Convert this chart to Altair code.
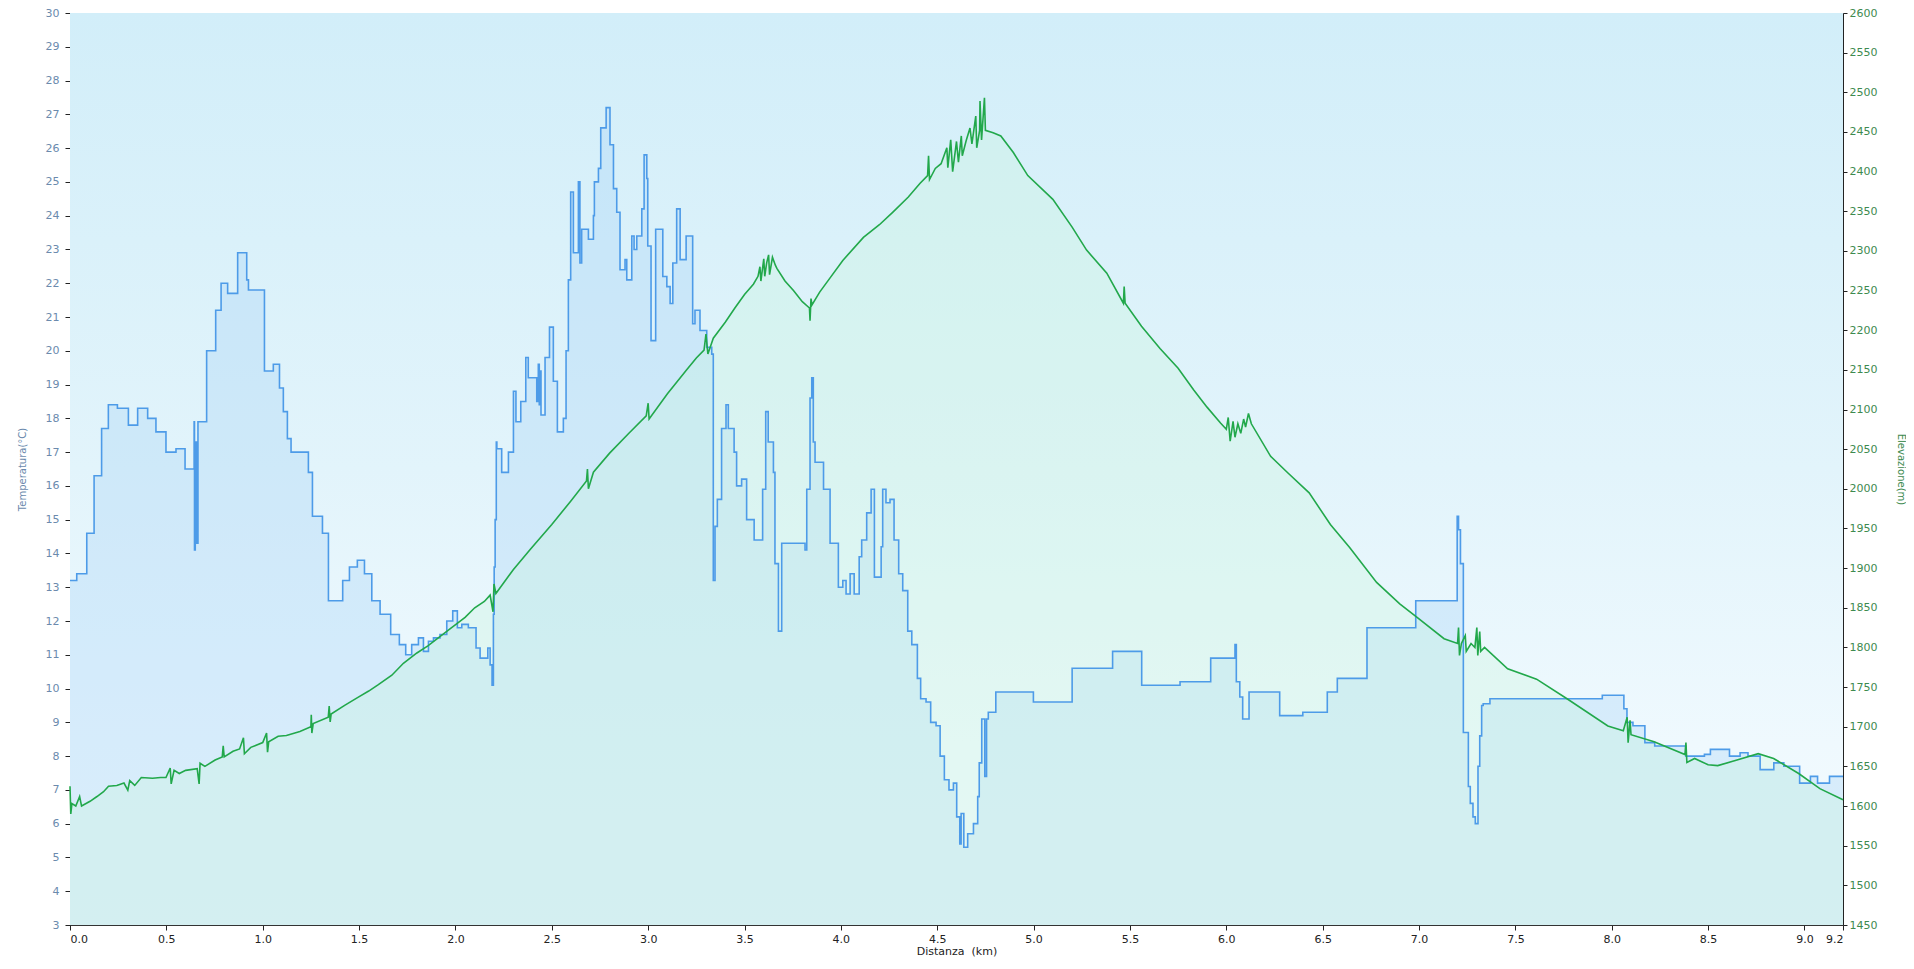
import altair as alt
import pandas as pd

# ---------------- data ----------------
temp_km = [0.000, 0.035, 0.087, 0.125, 0.164, 0.199, 0.246, 0.303, 0.351, 0.403,
           0.446, 0.498, 0.550, 0.597, 0.644, 0.646, 0.650, 0.658, 0.664, 0.709,
           0.756, 0.784, 0.818, 0.870, 0.917, 0.926, 1.009, 1.055, 1.087, 1.107,
           1.128, 1.147, 1.237, 1.258, 1.310, 1.341, 1.415, 1.450, 1.491, 1.528,
           1.566, 1.609, 1.664, 1.709, 1.742, 1.773, 1.808, 1.834, 1.860, 1.886,
           1.920, 1.955, 1.986, 2.010, 2.033, 2.067, 2.107, 2.128, 2.168, 2.180,
           2.190, 2.197, 2.201, 2.206, 2.212, 2.215, 2.240, 2.275, 2.301, 2.314,
           2.339, 2.365, 2.378, 2.422, 2.430, 2.435, 2.439, 2.444, 2.465, 2.488,
           2.508, 2.529, 2.560, 2.574, 2.586, 2.598, 2.612, 2.638, 2.646, 2.655,
           2.690, 2.704, 2.716, 2.721, 2.742, 2.754, 2.782, 2.802, 2.820, 2.837,
           2.854, 2.880, 2.889, 2.915, 2.927, 2.941, 2.967, 2.979, 2.993, 2.998,
           3.015, 3.039, 3.076, 3.097, 3.114, 3.128, 3.148, 3.166, 3.197, 3.231,
           3.243, 3.269, 3.304, 3.330, 3.338, 3.347, 3.359, 3.381, 3.404, 3.416,
           3.446, 3.459, 3.485, 3.511, 3.550, 3.594, 3.610, 3.623, 3.650, 3.658,
           3.676, 3.693, 3.814, 3.823, 3.840, 3.849, 3.857, 3.866, 3.910, 3.944,
           3.987, 4.010, 4.027, 4.048, 4.069, 4.095, 4.108, 4.134, 4.157, 4.174,
           4.209, 4.217, 4.234, 4.255, 4.276, 4.300, 4.321, 4.347, 4.368, 4.397,
           4.414, 4.442, 4.466, 4.494, 4.515, 4.537, 4.561, 4.584, 4.601, 4.617,
           4.624, 4.638, 4.658, 4.688, 4.710, 4.718, 4.731, 4.747, 4.756, 4.765,
           4.804, 4.999, 5.200, 5.410, 5.561, 5.760, 5.919, 6.045, 6.052, 6.070,
           6.085, 6.118, 6.277, 6.397, 6.524, 6.576, 6.730, 6.983, 7.198, 7.205,
           7.215, 7.230, 7.256, 7.266, 7.280, 7.292, 7.306, 7.315, 7.325, 7.333,
           7.368, 7.951, 8.063, 8.079, 8.110, 8.172, 8.223, 8.384, 8.481, 8.512,
           8.611, 8.666, 8.707, 8.770, 8.841, 8.893, 8.975, 9.031, 9.068, 9.130,
           9.200]
temp_val = [13.2, 13.4, 14.6, 16.3, 17.7, 18.4, 18.3, 17.8, 18.3, 18.0,
            17.6, 17.0, 17.1, 16.5, 17.9, 14.1, 17.3, 14.3, 17.9, 20.0,
            21.2, 22.0, 21.7, 22.9, 22.1, 21.8, 19.4, 19.6, 18.9, 18.2,
            17.4, 17.0, 16.4, 15.1, 14.6, 12.6, 13.2, 13.6, 13.8, 13.4,
            12.6, 12.2, 11.6, 11.3, 11.0, 11.3, 11.5, 11.1, 11.4, 11.5,
            11.6, 12.0, 12.3, 11.8, 11.9, 11.8, 11.2, 10.9, 11.2, 10.7,
            10.1, 12.2, 13.6, 15.0, 17.3, 17.1, 16.4, 17.0, 18.8, 17.9,
            18.5, 19.8, 19.2, 18.5, 19.6, 18.4, 19.4, 18.1, 19.8, 20.7,
            19.1, 17.6, 18.0, 20.0, 22.1, 24.7, 22.9, 25.0, 22.6, 23.6,
            23.3, 23.3, 24.0, 25.0, 25.4, 26.6, 27.2, 26.1, 24.8, 24.1,
            22.4, 22.7, 22.1, 23.4, 23.0, 23.4, 24.2, 25.8, 25.1, 23.1,
            20.3, 23.6, 22.2, 21.9, 21.4, 22.6, 24.2, 22.7, 23.4, 20.8,
            21.2, 20.6, 20.1, 19.9, 13.2, 14.8, 15.6, 17.7, 18.4, 17.7,
            17.0, 16.0, 16.2, 15.0, 14.4, 15.9, 18.2, 17.3, 16.4, 13.7,
            11.7, 14.3, 14.1, 15.9, 18.6, 19.2, 17.3, 16.7, 15.9, 14.3,
            13.0, 13.2, 12.8, 13.4, 12.8, 13.9, 14.4, 15.2, 15.9, 13.3,
            14.2, 15.9, 15.5, 15.6, 14.4, 13.4, 12.9, 11.7, 11.3, 10.3,
            9.7, 9.6, 9.0, 8.9, 8.0, 7.3, 7.0, 7.2, 6.2, 5.4,
            6.3, 5.3, 5.7, 6.0, 6.8, 7.8, 9.1, 7.4, 9.1, 9.3,
            9.9, 9.6, 10.6, 11.1, 10.1, 10.2, 10.9, 11.3, 10.2, 9.75,
            9.1, 9.9, 9.2, 9.3, 9.9, 10.3, 11.8, 12.6, 15.1, 14.7,
            13.7, 8.7, 7.1, 6.6, 6.2, 6.0, 7.7, 8.6, 9.5, 9.55,
            9.7, 9.8, 9.4, 9.0, 8.9, 8.4, 8.3, 8.0, 8.05, 8.2,
            8.0, 8.1, 8.0, 7.6, 7.8, 7.7, 7.2, 7.4, 7.2, 7.4,
            7.4]

elev_km = [0.000, 0.004, 0.010, 0.030, 0.050, 0.060, 0.104, 0.140, 0.174, 0.200,
           0.243, 0.280, 0.300, 0.310, 0.336, 0.370, 0.428, 0.470, 0.498, 0.520,
           0.525, 0.540, 0.567, 0.600, 0.660, 0.670, 0.675, 0.700, 0.753, 0.790,
           0.795, 0.800, 0.846, 0.880, 0.900, 0.905, 0.938, 1.000, 1.020, 1.025,
           1.031, 1.080, 1.123, 1.193, 1.250, 1.252, 1.255, 1.262, 1.340, 1.345,
           1.350, 1.355, 1.425, 1.494, 1.550, 1.600, 1.670, 1.730, 1.800, 1.857,
           1.970, 2.050, 2.100, 2.150, 2.180, 2.195, 2.200, 2.210, 2.300, 2.390,
           2.500, 2.600, 2.680, 2.685, 2.690, 2.716, 2.800, 2.900, 2.990, 3.000,
           3.005, 3.100, 3.200, 3.250, 3.290, 3.300, 3.310, 3.338, 3.400, 3.450,
           3.500, 3.546, 3.570, 3.580, 3.585, 3.600, 3.605, 3.615, 3.625, 3.630,
           3.645, 3.660, 3.668, 3.710, 3.754, 3.800, 3.837, 3.840, 3.845, 3.850,
           3.890, 3.944, 4.010, 4.117, 4.200, 4.270, 4.350, 4.410, 4.450, 4.455,
           4.460, 4.490, 4.520, 4.550, 4.555, 4.570, 4.580, 4.600, 4.610, 4.625,
           4.630, 4.650, 4.670, 4.680, 4.700, 4.705, 4.720, 4.722, 4.730, 4.745,
           4.750, 4.790, 4.830, 4.895, 4.970, 5.100, 5.200, 5.275, 5.380, 5.466,
           5.470, 5.475, 5.560, 5.656, 5.750, 5.830, 5.900, 5.970, 6.000, 6.010,
           6.020, 6.035, 6.045, 6.060, 6.075, 6.090, 6.100, 6.115, 6.130, 6.230,
           6.320, 6.430, 6.540, 6.640, 6.780, 6.900, 6.990, 7.130, 7.200, 7.205,
           7.210, 7.220, 7.240, 7.245, 7.270, 7.290, 7.300, 7.305, 7.315, 7.320,
           7.340, 7.460, 7.610, 7.770, 7.980, 8.060, 8.080, 8.085, 8.095, 8.100,
           8.220, 8.380, 8.385, 8.390, 8.430, 8.500, 8.550, 8.650, 8.760, 8.840,
           8.970, 9.080, 9.200]
elev_val = [1625, 1590, 1603, 1600, 1612, 1600, 1606, 1612, 1618, 1625,
            1626, 1629, 1620, 1632, 1626, 1636, 1635, 1636, 1636, 1648,
            1628, 1645, 1641, 1645, 1647, 1628, 1654, 1650, 1658, 1662,
            1676, 1662, 1669, 1672, 1686, 1666, 1674, 1680, 1692, 1668,
            1681, 1688, 1689, 1694, 1700, 1715, 1692, 1704, 1712, 1726,
            1706, 1716, 1727, 1737, 1745, 1753, 1765, 1780, 1793, 1802,
            1823, 1838, 1850, 1858, 1866, 1845, 1880, 1868, 1898, 1924,
            1955, 1985, 2010, 2025, 2000, 2021, 2045, 2070, 2092, 2108,
            2088, 2120, 2150, 2165, 2175, 2195, 2170, 2190, 2210, 2228,
            2245, 2258, 2268, 2280, 2262, 2290, 2268, 2285, 2295, 2270,
            2292, 2282, 2278, 2262, 2250, 2236, 2228, 2212, 2240, 2232,
            2248, 2266, 2288, 2317, 2333, 2349, 2368, 2385, 2395, 2420,
            2390, 2404, 2410, 2430, 2405, 2440, 2400, 2438, 2412, 2445,
            2420, 2439, 2455, 2435, 2470, 2430, 2452, 2489, 2440, 2493,
            2452, 2449, 2445, 2424, 2395, 2365, 2330, 2301, 2272, 2234,
            2255, 2234, 2205, 2177, 2152, 2125, 2103, 2083, 2075, 2090,
            2060, 2085, 2065, 2082, 2070, 2088, 2078, 2095, 2082, 2041,
            2020, 1995, 1955, 1926, 1882, 1855, 1838, 1811, 1805, 1825,
            1790, 1805, 1815, 1795, 1805, 1800, 1825, 1790, 1820, 1795,
            1800, 1773, 1760, 1735, 1701, 1695, 1712, 1680, 1708, 1690,
            1681, 1665, 1680, 1655, 1660, 1652, 1651, 1658, 1666, 1660,
            1641, 1622, 1608]

x_ticks = [0.0, 0.5, 1.0, 1.5, 2.0, 2.5, 3.0, 3.5, 4.0, 4.5, 5.0, 5.5, 6.0,
           6.5, 7.0, 7.5, 8.0, 8.5, 9.0, 9.2]
temp_ticks = list(range(3, 31))
elev_ticks = list(range(1450, 2601, 50))

temp_df = pd.DataFrame({"km": temp_km, "T": temp_val})
elev_df = pd.DataFrame({"km": elev_km, "E": elev_val})

W, H = 1773, 912
FONT = "DejaVu Sans"
TEMP_COLOR = "#6b8aad"
ELEV_COLOR = "#3d8a4f"

xscale = alt.Scale(domain=[0, 9.2], nice=False, zero=False)
tscale = alt.Scale(domain=[3, 30], nice=False, zero=False)
escale = alt.Scale(domain=[1450, 2600], nice=False, zero=False)

x_axis = alt.Axis(values=x_ticks, format=".1f", grid=False, labelFlush=True,
                  labelOverlap=False, tickSize=5, tickColor="#222",
                  domainColor="#333", labelColor="#222", labelFont=FONT,
                  labelFontSize=11, title="Distanza\u00a0 (km)", titleFont=FONT,
                  titleFontSize=11, titleFontWeight="normal", titleColor="#222",
                  titleY=26, titleBaseline="middle", labelPadding=3)

left_axis = alt.Axis(orient="left", values=temp_ticks, format="d", grid=True,
                     gridColor="#a9c1cc", gridOpacity=1, gridWidth=1,
                     domainColor="#222", tickColor="#222", tickSize=5,
                     labelColor=TEMP_COLOR, labelFont=FONT, labelFontSize=11,
                     labelPadding=6, title="Temperatura(°C)", titleFont=FONT,
                     titleFontSize=10, titleFontWeight="normal",
                     titleColor=TEMP_COLOR, titleAngle=270, titleX=-48,
                     titleY=H / 2, titleAlign="center", titleBaseline="middle")

right_axis = alt.Axis(orient="right", values=elev_ticks, format="d", grid=False,
                      domainColor="#222", tickColor="#222", tickSize=4,
                      labelColor=ELEV_COLOR, labelFont=FONT, labelFontSize=11,
                      labelPadding=2, title="Elevazione(m)", titleFont=FONT,
                      titleFontSize=10, titleFontWeight="normal",
                      titleColor=ELEV_COLOR, titleAngle=90, titleX=57,
                      titleY=H / 2, titleAlign="center", titleBaseline="middle")

X = alt.X("km:Q", scale=xscale, axis=x_axis)

bg = alt.Chart(pd.DataFrame({"k": [0]})).mark_rect(
    fill=alt.LinearGradient(
        gradient="linear", x1=0, x2=0, y1=0, y2=1,
        stops=[alt.GradientStop(color="#d2eef9", offset=0),
               alt.GradientStop(color="#e2f4fb", offset=0.5),
               alt.GradientStop(color="#eff9fe", offset=0.8),
               alt.GradientStop(color="#f4fbfe", offset=1)])
).encode(x=alt.value(0), x2=alt.value(W), y=alt.value(0), y2=alt.value(H))

temp_area = alt.Chart(temp_df).mark_area(
    interpolate="step-after", fill="#a8d4f5", fillOpacity=0.35
).encode(x=X, y=alt.Y("T:Q", scale=tscale, axis=left_axis), y2=alt.datum(3))

elev_area = alt.Chart(elev_df).mark_area(
    fill="#c8f5dc", fillOpacity=0.3
).encode(x=X, y=alt.Y("E:Q", scale=escale, axis=right_axis), y2=alt.datum(1450))

temp_line = alt.Chart(temp_df).mark_line(
    interpolate="step-after", color="#4d9be8", strokeWidth=1.6
).encode(x=X, y=alt.Y("T:Q", scale=tscale, axis=None))

elev_line = alt.Chart(elev_df).mark_line(
    color="#22a84b", strokeWidth=1.6
).encode(x=X, y=alt.Y("E:Q", scale=escale, axis=None))

chart = alt.layer(bg, temp_area, elev_area, temp_line, elev_line).resolve_scale(
    y="independent"
).properties(
    width=W, height=H,
    padding={"left": 62, "top": 5, "right": 63, "bottom": 32},
    autosize=alt.AutoSizeParams(type="none"),
    background="white",
).configure_view(stroke="#b4c2ca", strokeWidth=1)

chart.save("out.html", embed_options={"renderer": "svg", "actions": False})
